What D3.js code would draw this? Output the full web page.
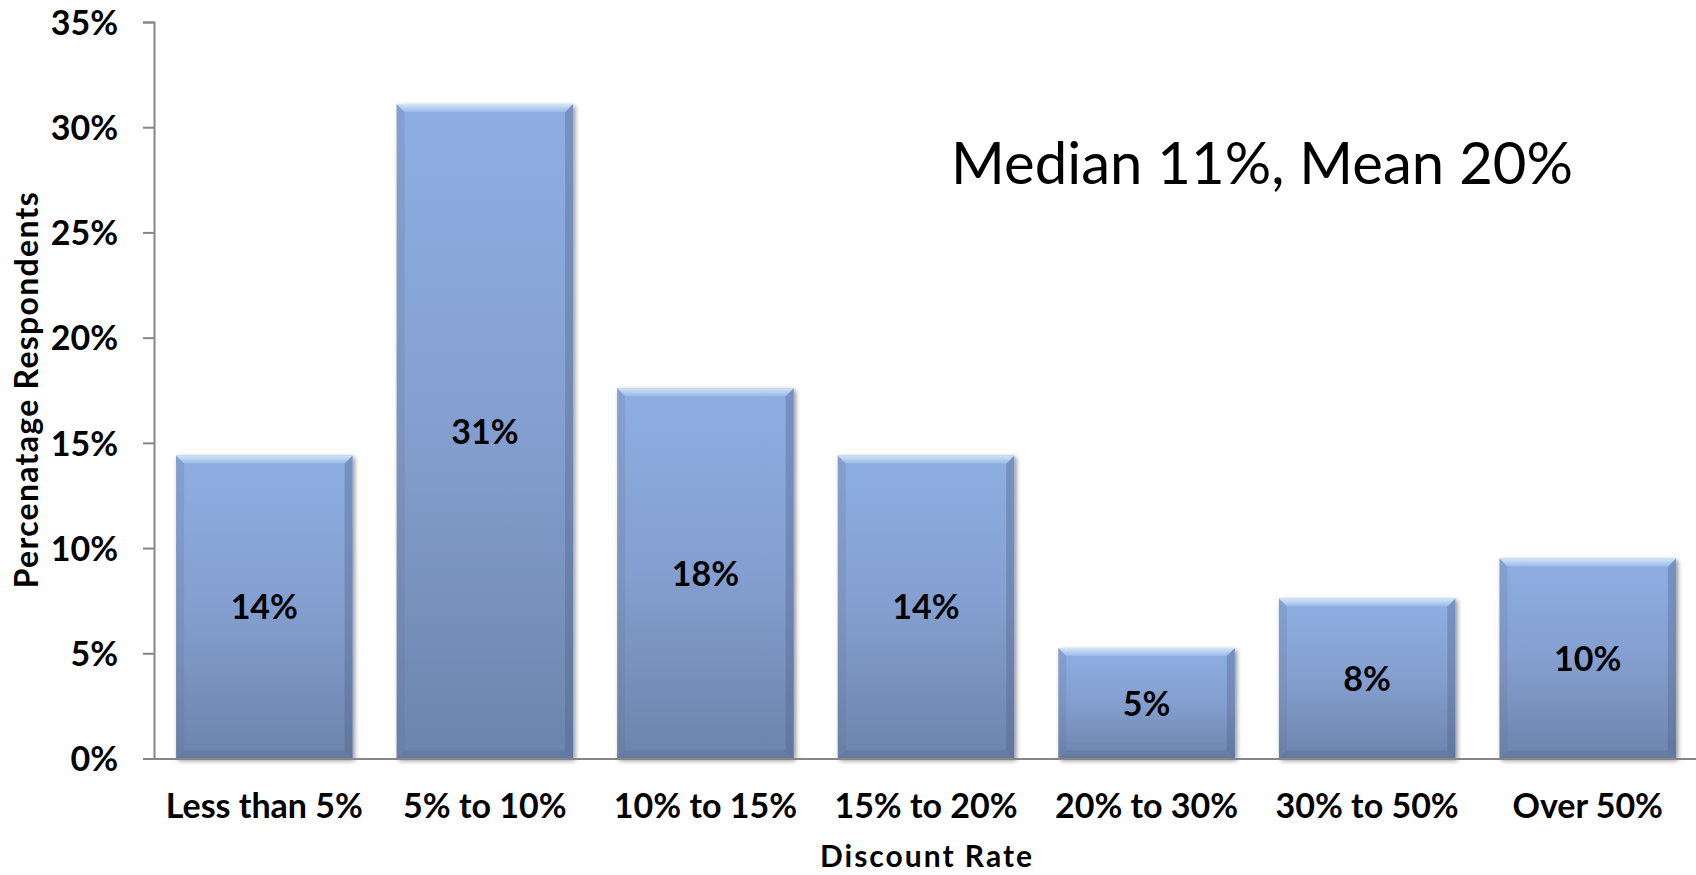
<!DOCTYPE html>
<html>
<head>
<meta charset="utf-8">
<script src="https://cdn.jsdelivr.net/npm/d3@7/dist/d3.min.js"></script>
<style>
  html, body { margin: 0; padding: 0; background: #ffffff; }
  svg { display: block; }
  text { font-family: Lato, "Open Sans", sans-serif; fill: #000; }
</style>
</head>
<body>
<svg id="chart" width="1696" height="875"></svg>
<script>
// ---- data ----
const categories = ["Less than 5%", "5% to 10%", "10% to 15%", "15% to 20%", "20% to 30%", "30% to 50%", "Over 50%"];
const values = [14.4, 31.1, 17.6, 14.4, 5.25, 7.6, 9.5];
const valueLabels = ["14%", "31%", "18%", "14%", "5%", "8%", "10%"];
const yTicks = [0, 5, 10, 15, 20, 25, 30, 35];
const yTickLabels = ["0%", "5%", "10%", "15%", "20%", "25%", "30%", "35%"];
const xTitle = "Discount Rate";
const yTitle = "Percenatage Respondents";
const annotation = "Median 11%, Mean 20%";

// ---- layout ----
const W = 1696, H = 875;
const plot = { left: 154, right: 1698, top: 22, bottom: 758.5 };
const labelSize = 34;

const svg = d3.select("#chart");

const x = d3.scaleBand()
  .domain(categories)
  .range([plot.left, plot.right])
  .paddingInner(0.2)
  .paddingOuter(0.1);

const y = d3.scaleLinear()
  .domain([0, 35])
  .range([plot.bottom, plot.top]);

// ---- defs ----
const defs = svg.append("defs");
const g1 = defs.append("linearGradient").attr("id", "barFill")
  .attr("x1", 0).attr("y1", 0).attr("x2", 0).attr("y2", 1);
g1.append("stop").attr("offset", "0%").attr("stop-color", "#8eaee2");
g1.append("stop").attr("offset", "50%").attr("stop-color", "#849fcf");
g1.append("stop").attr("offset", "100%").attr("stop-color", "#6c84ac");

const gTop = defs.append("linearGradient").attr("id", "topFill")
  .attr("x1", 0).attr("y1", 0).attr("x2", 0).attr("y2", 1);
gTop.append("stop").attr("offset", "0%").attr("stop-color", "#d2e6fb");
gTop.append("stop").attr("offset", "100%").attr("stop-color", "#9bb8e6");

const shadow = defs.append("filter").attr("id", "shadow")
  .attr("x", "-10%").attr("y", "-10%").attr("width", "130%").attr("height", "130%");
shadow.append("feGaussianBlur").attr("in", "SourceAlpha").attr("stdDeviation", 2.5).attr("result", "blur");
shadow.append("feOffset").attr("in", "blur").attr("dx", 2).attr("dy", 2).attr("result", "off");
shadow.append("feComponentTransfer").attr("in", "off").attr("result", "offA")
  .append("feFuncA").attr("type", "linear").attr("slope", 0.45);
const merge = shadow.append("feMerge");
merge.append("feMergeNode").attr("in", "offA");
merge.append("feMergeNode").attr("in", "SourceGraphic");

// ---- bars ----
const bev = 8;
const bars = svg.append("g").selectAll("g.bar")
  .data(categories.map((c, i) => ({ c, v: values[i], label: valueLabels[i] })))
  .join("g").attr("class", "bar");

bars.each(function(d) {
  const g = d3.select(this);
  const x0 = x(d.c), w = x.bandwidth();
  const y0 = y(d.v), y1 = y(0);
  const b = g.append("g").attr("filter", "url(#shadow)");
  b.append("rect").attr("x", x0).attr("y", y0).attr("width", w).attr("height", y1 - y0)
    .attr("fill", "url(#barFill)");
  b.append("polygon")
    .attr("points", [[x0, y0], [x0 + bev, y0 + bev], [x0 + bev, y1 - bev], [x0, y1]].join(" "))
    .attr("fill", "#5f7396").attr("fill-opacity", 0.22);
  b.append("polygon")
    .attr("points", [[x0 + w, y0], [x0 + w - bev, y0 + bev], [x0 + w - bev, y1 - bev], [x0 + w, y1]].join(" "))
    .attr("fill", "#4c5f80").attr("fill-opacity", 0.35);
  b.append("polygon")
    .attr("points", [[x0, y1], [x0 + bev, y1 - bev], [x0 + w - bev, y1 - bev], [x0 + w, y1]].join(" "))
    .attr("fill", "#4c5f80").attr("fill-opacity", 0.25);
  b.append("polygon")
    .attr("points", [[x0, y0], [x0 + w, y0], [x0 + w - bev, y0 + bev], [x0 + bev, y0 + bev]].join(" "))
    .attr("fill", "url(#topFill)");
  g.append("text")
    .attr("x", x0 + w / 2)
    .attr("y", (y0 + y1) / 2)
    .attr("dy", "0.36em")
    .attr("text-anchor", "middle")
    .attr("font-weight", "bold")
    .attr("font-size", labelSize)
    .text(d.label);
});

// ---- axes ----
const yAxis = d3.axisLeft(y).tickValues(yTicks)
  .tickFormat((d, i) => yTickLabels[i]).tickSize(11).tickPadding(25);
const ya = svg.append("g").attr("transform", `translate(${plot.left},0)`).call(yAxis);
ya.select(".domain").attr("stroke", "#868686").attr("stroke-width", 2);
ya.selectAll(".tick line").attr("stroke", "#868686").attr("stroke-width", 2);
ya.selectAll(".tick text").attr("font-size", labelSize).attr("font-weight", "bold")
  .attr("font-family", "Lato, sans-serif").attr("fill", "#000").attr("dy", "0.36em");

const xAxis = d3.axisBottom(x).tickSize(0).tickPadding(35);
const xa = svg.append("g").attr("transform", `translate(0,${plot.bottom})`).call(xAxis);
xa.select(".domain").attr("stroke", "#868686").attr("stroke-width", 2);
xa.selectAll(".tick text").attr("font-size", labelSize).attr("font-weight", "bold")
  .attr("font-family", "Lato, sans-serif").attr("fill", "#000");

// ---- titles ----
svg.append("text")
  .attr("x", (plot.left + plot.right) / 2)
  .attr("y", 867)
  .attr("text-anchor", "middle")
  .attr("font-weight", "bold")
  .attr("font-size", 30)
  .attr("textLength", 212)
  .text(xTitle);

svg.append("text")
  .attr("transform", `translate(38,${(plot.top + plot.bottom) / 2}) rotate(-90)`)
  .attr("text-anchor", "middle")
  .attr("font-weight", "bold")
  .attr("font-size", 32)
  .attr("textLength", 396)
  .text(yTitle);

svg.append("text")
  .attr("x", 951)
  .attr("y", 184)
  .attr("font-size", 58)
  .attr("textLength", 622)
  .text(annotation);
</script>
</body>
</html>
